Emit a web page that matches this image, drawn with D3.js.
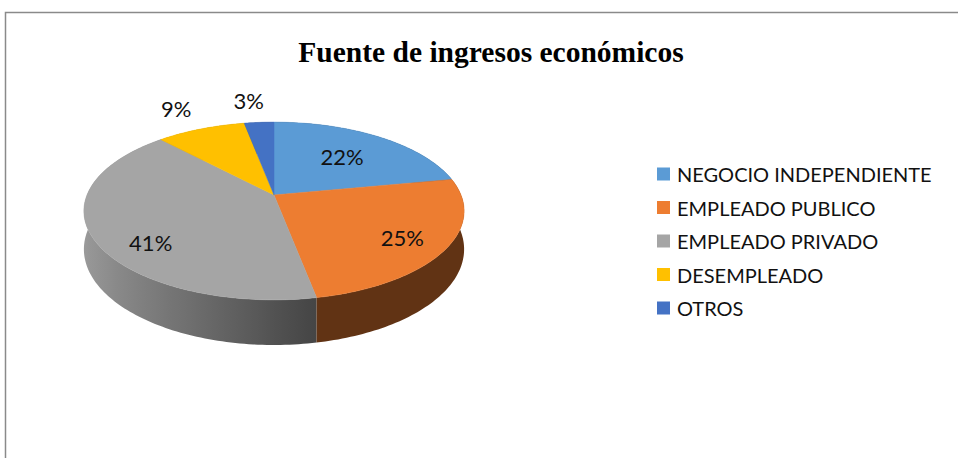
<!DOCTYPE html>
<html>
<head>
<meta charset="utf-8">
<script src="https://cdn.jsdelivr.net/npm/d3@7"></script>
<style>
  body { margin: 0; background: #fff; }
  svg { display: block; }
</style>
</head>
<body>
<svg id="chart" width="958" height="458"></svg>
<script>
// data
const categories = ['NEGOCIO INDEPENDIENTE', 'EMPLEADO PUBLICO', 'EMPLEADO PRIVADO', 'DESEMPLEADO', 'OTROS'];
const values = [22, 25, 41, 9, 3];
const colors = ['#5B9BD5', '#ED7D31', '#A5A5A5', '#FFC000', '#4472C4'];
const title = 'Fuente de ingresos económicos';

const svg = d3.select('#chart');
const defs = svg.append('defs');

// frame
svg.append('rect')
  .attr('x', 5.5).attr('y', 12.5)
  .attr('width', 970).attr('height', 470)
  .attr('fill', 'none').attr('stroke', '#8a8a8a').attr('stroke-width', 1.5);

svg.append('text')
  .attr('x', 491).attr('y', 62)
  .attr('text-anchor', 'middle')
  .style('font', 'bold 29.5px "Liberation Serif", "Times New Roman", serif')
  .attr('fill', '#000')
  .text(title);

// 3d pie geometry (perspective tilt)
const cx = 274, cy = 195;
const A = 187, B = 86, p = 0.18, depth = 37;

function proj(a, r, drop) {
  const u = r * Math.sin(a), w = -r * Math.cos(a);
  const s = 1 / (1 - p * w);
  return [cx + A * u * s, cy + B * w * s + (drop || 0) * s];
}

const pie = d3.pie().sort(null).value(d => d.value);
const arcs = pie(categories.map((c, i) => ({ name: c, value: values[i], color: colors[i] })));
const line = d3.line();

// side wall lit from the left
function shade(a) {
  const u = Math.sin(a);
  const t = Math.max(0, Math.min(1, (0.2 - u) / 1.2));
  return 0.41 + 0.54 * t;
}

// silhouette angles of the side wall
const aLeft = 2 * Math.PI - Math.acos(-p), aRight = Math.acos(-p);
const xMin = proj(aLeft, 1)[0], xMax = proj(aRight, 1)[0];
const gradSteps = d3.range(41).map(k => aLeft - (aLeft - aRight) * k / 40);

arcs.forEach((d, i) => {
  const base = d3.rgb(d.data.color);
  defs.append('linearGradient')
    .attr('id', 'wall' + i)
    .attr('gradientUnits', 'userSpaceOnUse')
    .attr('x1', xMin).attr('x2', xMax).attr('y1', 0).attr('y2', 0)
    .selectAll('stop').data(gradSteps).join('stop')
    .attr('offset', a => (proj(a, 1)[0] - xMin) / (xMax - xMin))
    .attr('stop-color', a => {
      const f = shade(a);
      return d3.rgb(base.r * f, base.g * f, base.b * f).formatHex();
    });
});

function arcPoints(d, r, drop) {
  const n = Math.max(4, Math.ceil((d.endAngle - d.startAngle) / 0.02));
  return d3.range(n + 1).map(k => proj(d.startAngle + (d.endAngle - d.startAngle) * k / n, r, drop));
}

const gWall = svg.append('g');
const gTop = svg.append('g');

// walls, back ones first
const wallOrder = arcs.map((d, i) => [d, i]).sort((a, b) =>
  -Math.cos((a[0].startAngle + a[0].endAngle) / 2) - -Math.cos((b[0].startAngle + b[0].endAngle) / 2));

wallOrder.forEach(([d, i]) => {
  const pts = arcPoints(d, 1, 0).concat(arcPoints(d, 1, depth).reverse());
  gWall.append('path')
    .attr('d', line(pts) + 'Z')
    .attr('fill', `url(#wall${i})`);
});

// top faces
arcs.forEach(d => {
  const pts = [proj(0, 0)].concat(arcPoints(d, 1, 0));
  gTop.append('path')
    .attr('d', line(pts) + 'Z')
    .attr('fill', d.data.color)
    .attr('stroke', d.data.color).attr('stroke-width', 0.5);
});

// data labels
const total = d3.sum(values);
const deg = Math.PI / 180;
arcs.forEach(d => {
  const mid = (d.startAngle + d.endAngle) / 2;
  const outside = d.data.value / total < 0.1;
  const pt = outside ? proj(mid - 2 * deg, 1.3, -6) : proj(mid - 6 * deg, 0.73, 10);
  svg.append('text')
    .attr('x', pt[0]).attr('y', pt[1])
    .attr('text-anchor', 'middle')
    .attr('dominant-baseline', 'central')
    .style('font', '22px Lato, "Open Sans", sans-serif')
    .attr('fill', '#111')
    .text(Math.round(d.data.value / total * 100) + '%');
});

// legend
const ly = d3.scalePoint().domain(categories).range([174, 308]);
const legend = svg.append('g').selectAll('g').data(arcs).join('g')
  .attr('transform', d => `translate(657,${ly(d.data.name)})`);
legend.append('rect')
  .attr('x', 0).attr('y', -6.5).attr('width', 13).attr('height', 13)
  .attr('fill', d => d.data.color);
legend.append('text')
  .attr('x', 20).attr('y', 0)
  .attr('dominant-baseline', 'central')
  .style('font', '20px Lato, "Open Sans", sans-serif')
  .attr('fill', '#111')
  .text(d => d.data.name);
</script>
</body>
</html>
